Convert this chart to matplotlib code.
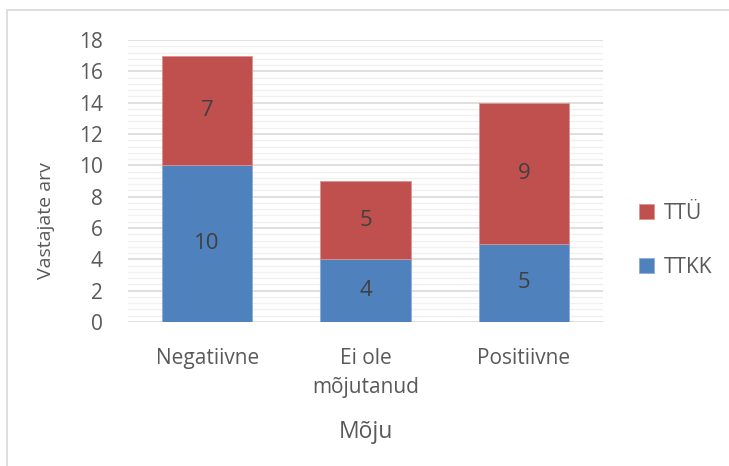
import matplotlib.pyplot as plt
import matplotlib.patches as patches
import numpy as np

categories = ["Negatiivne", "Ei ole\nmõjutanud", "Positiivne"]
ttkk = [10, 4, 5]
ttu = [7, 5, 9]

plt.rcParams['font.family'] = ['Open Sans', 'DejaVu Sans']

fig = plt.figure(figsize=(7.29, 4.66), dpi=100)
ax = fig.add_axes([128/729, 1 - 322/466, (603 - 128)/729, (322 - 40)/466])

# light border around the chart area
fig.patches.append(patches.Rectangle((7/729, -0.1), 1.0, 1 - 10/466 + 0.1,
                                     transform=fig.transFigure, fill=False,
                                     edgecolor='#D9D9D9', linewidth=1.2))

x = np.arange(len(categories))
w = 0.57
b1 = ax.bar(x, ttkk, w, color='#4F81BD', label='TTKK', zorder=3,
            edgecolor='#8EAADB', linewidth=0.6)
b2 = ax.bar(x, ttu, w, bottom=ttkk, color='#C0504D', label='TTÜ', zorder=3,
            edgecolor='#D99594', linewidth=0.6)

for bars in (b1, b2):
    for r in bars:
        ax.text(r.get_x() + r.get_width()/2, r.get_y() + r.get_height()/2,
                str(int(r.get_height())), ha='center', va='center',
                fontsize=16, color='#404040', zorder=4)

ax.set_xlim(-0.5, 2.5)
ax.set_ylim(0, 18)
ax.set_yticks(np.arange(0, 19, 2))
ax.set_yticks(np.arange(0, 18, 0.4), minor=True)
ax.grid(axis='y', which='major', color='#D9D9D9', linewidth=1.2, zorder=0)
ax.grid(axis='y', which='minor', color='#F0F0F0', linewidth=1.0, zorder=0)
ax.set_axisbelow(True)
for s in ax.spines.values():
    s.set_visible(False)
ax.tick_params(axis='both', which='both', length=0, colors='#595959', labelsize=15)
ax.tick_params(axis='y', pad=18)
ax.tick_params(axis='x', pad=19)
ax.set_xticks(x)
ax.set_xticklabels(categories, linespacing=1.45)

fig.text(46/729, 1 - 221/466, "Vastajate arv", rotation=90, ha='center', va='center',
         fontsize=14, color='#595959')
fig.text(366/729, 1 - 432/466, "Mõju", ha='center', va='center',
         fontsize=16.5, color='#595959')

handles, labels = ax.get_legend_handles_labels()
ax.legend(handles[::-1], labels[::-1], loc='center left', bbox_to_anchor=(1.075, 0.29),
          frameon=False, fontsize=15, labelcolor='#595959', handlelength=0.75,
          handleheight=0.75, labelspacing=1.6, handletextpad=0.45,
          borderpad=0, borderaxespad=0)

fig.savefig("out.png", dpi=100)
